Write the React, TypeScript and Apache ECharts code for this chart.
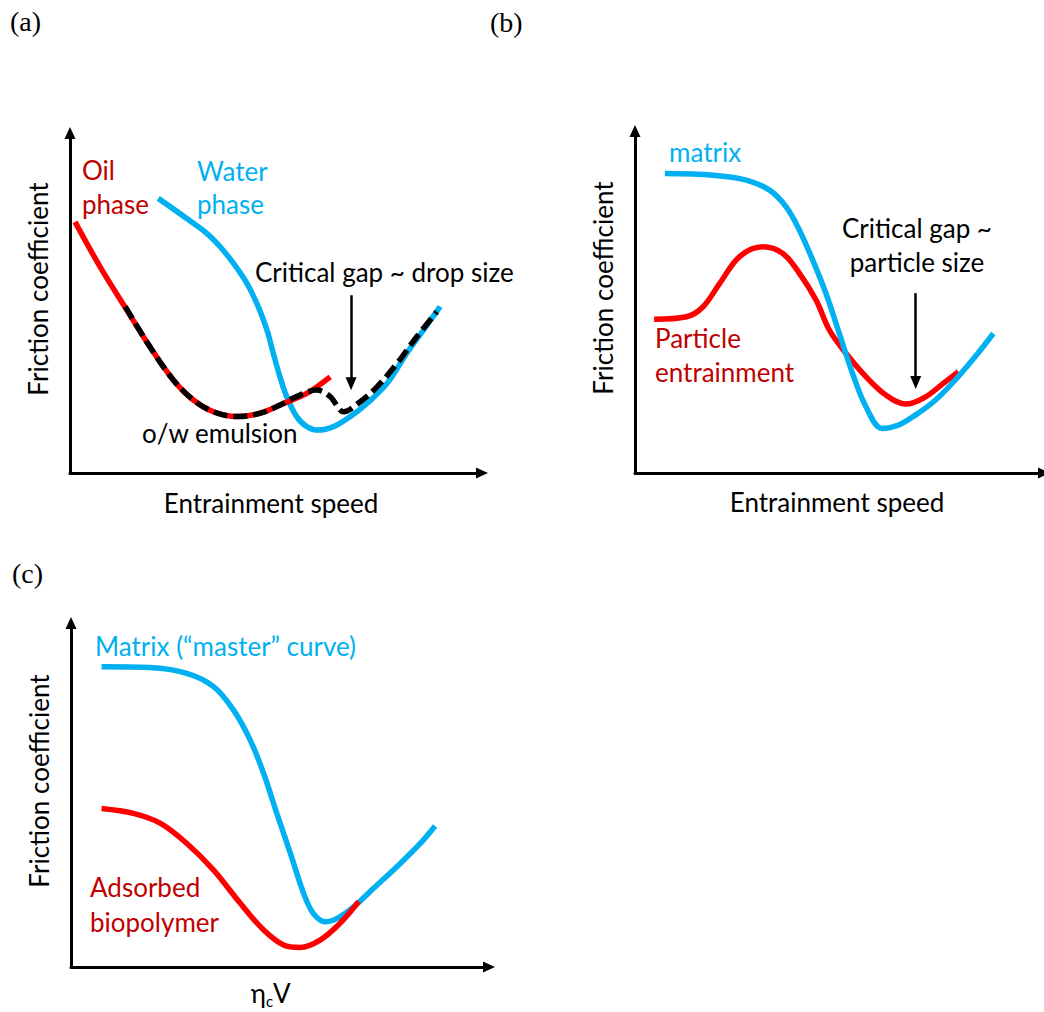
import React, { useEffect, useRef } from "react";
import * as echarts from "echarts";

// ---- data (arbitrary schematic units, 0..~100 along each axis) ----
// Panel (a)
const A_OIL = [[1.2,72.6],[7.2,59.6],[13.6,47.1],[19.1,36.5],[24.7,26.9],[29.5,21.1],[34.3,17.7],[39.9,16.3],[45.5,17.3],[51.0,20.1],[56.6,23.0],[62.2,27.8]];
const A_WATER = [[21.1,79.4],[27.9,73.6],[32.7,69.3],[35.9,65.4],[39.1,60.6],[42.3,54.8],[45.0,48.1],[47.1,41.3],[48.6,34.6],[50.2,27.8],[51.8,22.1],[54.2,16.3],[56.6,13.4],[59.4,12.4],[63.0,13.4],[67.0,16.3],[71.0,20.1],[75.8,25.9],[80.5,34.6],[84.5,41.3],[88.5,48.1]];
const A_EMULSION = [[13.2,48.1],[19.1,36.5],[24.7,26.9],[29.5,21.1],[34.3,17.7],[39.9,16.3],[45.5,17.3],[51.0,20.1],[53.4,21.7],[59.0,24.0],[62.2,22.1],[65.4,17.7],[69.4,20.6],[73.4,24.9],[78.2,31.7],[82.9,39.4],[87.7,46.6]];
const A_ARROW = [[67.2,51.4],[67.2,25.8]];
// Panel (b)
const B_MATRIX = [[7.2,86.1],[18.8,85.6],[26.8,84.2],[32.4,81.3],[36.4,76.5],[39.6,69.8],[42.8,61.2],[46.0,51.6],[49.2,40.1],[52.4,28.6],[55.6,19.1],[59.5,12.8],[63.5,13.8],[67.6,16.7],[72.4,21.0],[77.1,26.7],[81.9,33.4],[86.3,40.1]];
const B_PARTICLE = [[4.6,44.2],[12.4,44.9],[16.4,47.8],[20.4,54.5],[25.2,62.2],[30.8,65.0],[35.6,63.1],[39.6,57.4],[43.6,49.7],[46.8,41.1],[50.8,34.4],[55.6,27.7],[60.4,22.4],[65.2,19.8],[70.0,21.9],[74.7,26.2],[77.9,29.1]];
const B_ARROW = [[67.6,51.7],[67.6,26.0]];
// Panel (c)
const C_MATRIX = [[7.2,85.8],[18.6,85.6],[27.3,83.9],[33.6,80.1],[38.3,73.4],[42.2,64.9],[45.4,55.3],[48.5,43.9],[51.7,32.5],[54.8,21.1],[57.1,15.3],[59.9,12.9],[62.7,13.9],[66.6,17.2],[71.3,22.5],[77.6,29.6],[82.3,35.3],[85.8,40.3]];
const C_BIOPOLYMER = [[7.2,45.3],[14.7,43.9],[21.0,41.1],[27.3,35.3],[33.6,27.7],[39.9,18.2],[45.4,10.6],[50.1,6.3],[54.0,5.6],[58.7,7.7],[63.4,12.5],[67.8,18.7]];

const X_TITLE = "Entrainment speed";
const Y_TITLE = "Friction coefficient";

const BLUE = "#00B0F0";
const RED = "#FF0000";
const RED_TEXT = "#C00000";
const FONT = "Lato";
const FS = 26;

export default function App() {
  const ref = useRef<HTMLDivElement>(null);
  useEffect(() => {
    if (!ref.current) return;
    const chart = echarts.init(ref.current, undefined, { renderer: "svg" });

    const grids = [
      { left: 70, top: 133, width: 412, height: 340 },
      { left: 635, top: 131, width: 411, height: 342 },
      { left: 71, top: 623, width: 418, height: 344 },
    ];
    const axisLine = {
      show: true,
      symbol: ["none", "triangle"],
      symbolSize: [11, 12],
      lineStyle: { color: "#000", width: 3 },
    };
    const mkX = (i: number) => ({
      type: "value", gridIndex: i, min: 0, max: 98.5,
      axisLine, axisTick: { show: false }, axisLabel: { show: false }, splitLine: { show: false },
    });
    const mkY = (i: number) => ({
      type: "value", gridIndex: i, min: 0, max: 98.3,
      axisLine, axisTick: { show: false }, axisLabel: { show: false }, splitLine: { show: false },
    });
    const line = (name: string, data: number[][], idx: number, color: string, z: number, extra: any = {}) => ({
      name, type: "line", xAxisIndex: idx, yAxisIndex: idx, data, smooth: 0.35,
      showSymbol: false, symbol: "none", z, silent: true,
      lineStyle: { color, width: 5.5, cap: "butt", ...(extra.lineStyle || {}) },
      ...(extra.markLine ? { markLine: extra.markLine } : {}),
    });
    const arrow = (coords: number[][]) => ({
      silent: true, symbol: ["none", "triangle"], symbolSize: [11, 13],
      label: { show: false },
      lineStyle: { color: "#000", width: 2.5, type: "solid" },
      data: [[{ coord: coords[0] }, { coord: coords[1] }]],
    });

    const txt = (text: string, x: number, y: number, fill: string, align = "left", extra: any = {}) => ({
      type: "text", x, y, ...(extra.rotation ? { rotation: extra.rotation } : {}),
      style: { text, fill, fontFamily: extra.fontFamily || FONT, fontSize: extra.fontSize || FS, align, verticalAlign: "middle" },
    });
    const rot = { rotation: Math.PI / 2 };
    const serif = { fontFamily: "Liberation Serif", fontSize: 28 };

    chart.setOption({
      animation: false,
      backgroundColor: "#fff",
      grid: grids,
      xAxis: [mkX(0), mkX(1), mkX(2)],
      yAxis: [mkY(0), mkY(1), mkY(2)],
      series: [
        line("Water phase", A_WATER, 0, BLUE, 2, { markLine: arrow(A_ARROW) }),
        line("Oil phase", A_OIL, 0, RED, 3),
        line("o/w emulsion", A_EMULSION, 0, "#000", 4, { lineStyle: { type: [14, 6] } }),
        line("Particle entrainment", B_PARTICLE, 1, RED, 2, { markLine: arrow(B_ARROW) }),
        line("matrix", B_MATRIX, 1, BLUE, 3),
        line("Matrix (master curve)", C_MATRIX, 2, BLUE, 2),
        line("Adsorbed biopolymer", C_BIOPOLYMER, 2, RED, 3),
      ],
      graphic: [
        txt("(a)", 10, 21, "#000", "left", serif),
        txt("(b)", 490, 22, "#000", "left", serif),
        txt("(c)", 12, 573, "#000", "left", serif),
        // panel a
        txt("Oil", 82, 170, RED_TEXT),
        txt("phase", 82, 204, RED_TEXT),
        txt("Water", 197, 171, BLUE),
        txt("phase", 197, 204, BLUE),
        txt("Critical gap ~ drop size", 255, 272, "#000"),
        txt("o/w emulsion", 142, 433, "#000"),
        txt(Y_TITLE, 38, 289, "#000", "center", rot),
        txt(X_TITLE, 271, 503, "#000", "center"),
        // panel b
        txt("matrix", 669, 152, BLUE),
        txt("Critical gap ~", 917, 228, "#000", "center"),
        txt("particle size", 917, 262, "#000", "center"),
        txt("Particle", 655, 338, RED_TEXT),
        txt("entrainment", 655, 372, RED_TEXT),
        txt(Y_TITLE, 603, 288, "#000", "center", rot),
        txt(X_TITLE, 837, 502, "#000", "center"),
        // panel c
        txt("Matrix (\u201cmaster\u201d curve)", 95, 646, BLUE),
        txt("Adsorbed", 90, 887, RED_TEXT),
        txt("biopolymer", 90, 922, RED_TEXT),
        txt(Y_TITLE, 39, 781, "#000", "center", rot),
        txt("\u03b7", 266, 993, "#000", "right"),
        txt("c", 266, 1001, "#000", "left", { fontSize: 15 }),
        txt("V", 273, 993, "#000", "left"),
      ],
    });
    return () => chart.dispose();
  }, []);
  return (
    <div
      ref={ref}
      style={{ position: "fixed", left: 0, top: 0, width: 1044, height: 1012, background: "#fff" }}
    />
  );
}
